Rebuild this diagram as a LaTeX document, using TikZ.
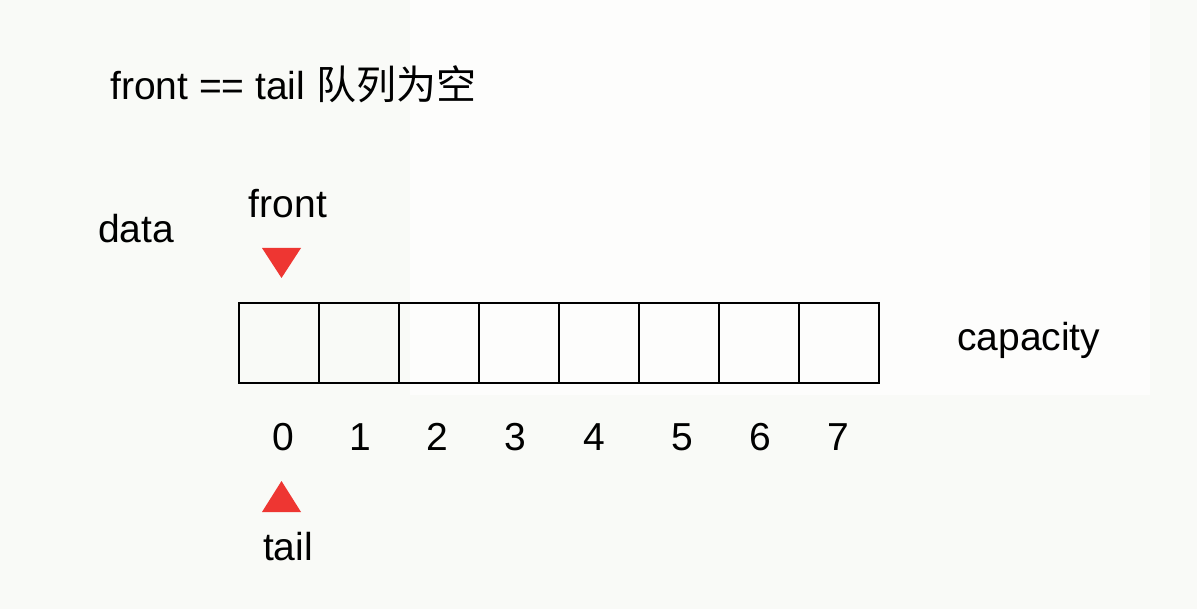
\documentclass[tikz,border=0pt]{standalone}
\usepackage{fontspec}
\setmainfont{Liberation Sans}
\newfontfamily\cjk{Noto Sans CJK SC}
\definecolor{bgleft}{HTML}{F9FAF7}
\definecolor{bgright}{HTML}{FDFDFC}
\definecolor{tri}{HTML}{EE3632}
\begin{document}
\begin{tikzpicture}[x=1pt,y=-1pt,
  lbl/.style={inner sep=0pt,anchor=base,font=\fontsize{39}{45}\selectfont},
  cell/.style={draw=black,line width=2pt,minimum width=80pt,minimum height=80pt,inner sep=0pt,anchor=north west},
  marker/.style={fill=tri,draw=none}]
\useasboundingbox (0,0) rectangle (1197,609);
\fill[bgleft] (0,0) rectangle (1197,609);
\fill[bgright] (410,0) rectangle (1150,395);
% title
\node[lbl,anchor=base west] (title) at (110,100) {front == tail\hspace{11pt}{\cjk\fontsize{40}{46}\selectfont 队列为空}};
% labels
\node[lbl] (data) at (136,243) {data};
\node[lbl] (frontlbl) at (288,218) {front};
\node[lbl,anchor=base west] (cap) at (957,351) {capacity};
% array cells
\foreach \i in {0,...,7}{
  \node[cell] (c\i) at ({238+80*\i},302) {};
}
% indices
\foreach \i/\x in {0/283,1/360,2/437,3/515,4/594,5/682,6/760,7/838}{
  \node[lbl] (n\i) at (\x,450) {\i};
}
% front marker (down triangle)
\coordinate (ft1) at (262,248);
\coordinate (ft2) at (301,248);
\coordinate (ft3) at (281.5,278);
\fill[marker] (ft1) -- (ft2) -- (ft3) -- cycle;
% tail marker (up triangle)
\coordinate (tt1) at (262,512);
\coordinate (tt2) at (301,512);
\coordinate (tt3) at (281.5,481);
\fill[marker] (tt1) -- (tt2) -- (tt3) -- cycle;
\node[lbl] (taillbl) at (288,560) {tail};
\end{tikzpicture}
\end{document}
